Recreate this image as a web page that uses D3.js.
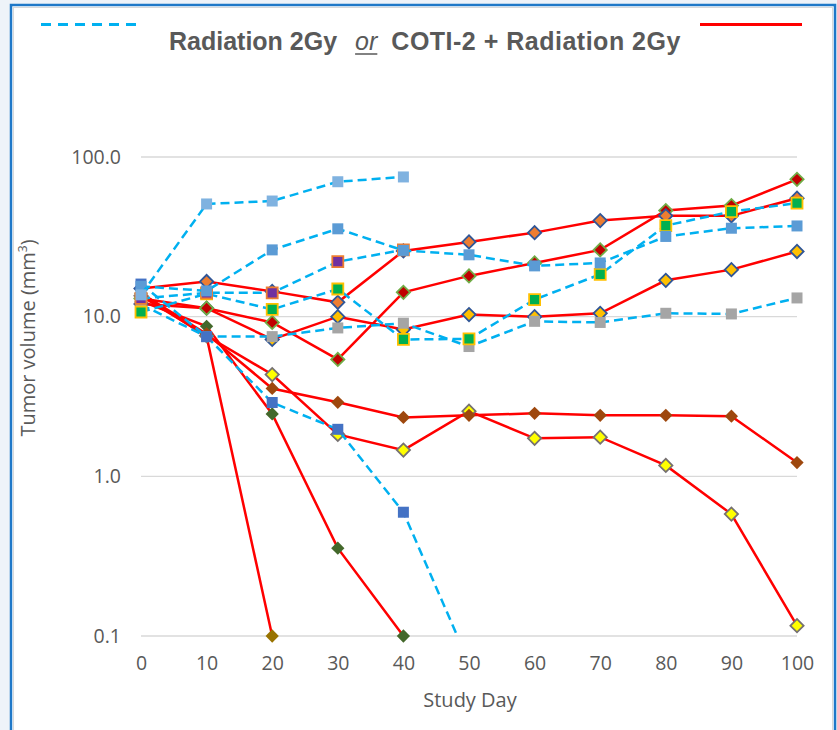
<!DOCTYPE html>
<html>
<head>
<meta charset="utf-8">
<script src="https://cdn.jsdelivr.net/npm/d3@7"></script>
<style>
  html, body { margin:0; padding:0; background:#eef3f9; }
  svg { display:block; }
</style>
</head>
<body>
<div id="chart"></div>
<script>
// study days (x categories) and log ticks
const days = [0,10,20,30,40,50,60,70,80,90,100];
const yTicks = [0.1,1,10,100];

// Radiation 2Gy (dashed blue)
const radLightBlue = [13.7, 50.8, 53, 70, 75, null, null, null, null, null, null];
const radMidBlue   = [15.5, 14.5, 26.2, 35.5, 26, 24.4, 20.8, 21.7, 31.8, 35.8, 37.0];
const radPurple    = [13, 14.1, 14.1, 22.1, 26.2, null, null, null, null, null, null];
const radGreen     = [10.7, 13.9, 11.1, 14.9, 7.2, 7.25, 12.8, 18.4, 37.2, 45.5, 51.4];
const radGray      = [11.9, 7.5, 7.5, 8.5, 9.1, 6.5, 9.35, 9.2, 10.5, 10.4, 13.1];
const radBlue      = [16.0, 7.5, 2.9, 1.97, 0.596, 0.068, null, null, null, null, null];

// COTI-2 + Radiation 2Gy (solid red)
const coOrange  = [15, 16.6, 14.4, 12.3, 25.8, 29.4, 33.6, 40.0, 42.8, 42.8, 55.2];
const coDarkRed = [13, 11.3, 9.2, 5.4, 14.2, 18.0, 21.7, 26.2, 46.2, 49.6, 72.5];
const coGold    = [12, 11.3, 7.2, 10.0, 8.3, 10.3, 10.0, 10.5, 16.9, 19.7, 25.6];
const coBrown   = [14, 7.8, 3.55, 2.91, 2.34, 2.41, 2.48, 2.41, 2.41, 2.38, 1.22];
const coYellow  = [13.5, 7.6, 4.34, 1.83, 1.46, 2.56, 1.73, 1.76, 1.17, 0.58, 0.116];
const coDkGreen = [12.5, 8.7, 2.46, 0.355, 0.10, null, null, null, null, null, null];
const coOlive   = [14, 7.5, 0.10, null, null, null, null, null, null, null, null];

// drawing order: red group first, blue group on top
const series = [
  {v:coOlive,      dash:false, shape:"di", fill:"#997300", stroke:"none"},
  {v:coDkGreen,    dash:false, shape:"di", fill:"#43682b", stroke:"none"},
  {v:coYellow,     dash:false, shape:"di", fill:"#ffff00", stroke:"#767171"},
  {v:coBrown,      dash:false, shape:"di", fill:"#9e480e", stroke:"none"},
  {v:coGold,       dash:false, shape:"di", fill:"#ffc000", stroke:"#2f5597"},
  {v:coDarkRed,    dash:false, shape:"di", fill:"#c00000", stroke:"#70ad47"},
  {v:coOrange,     dash:false, shape:"di", fill:"#ed7d31", stroke:"#2f5597"},
  {v:radGray,      dash:true,  shape:"sq", fill:"#a5a5a5", stroke:"none"},
  {v:radBlue,      dash:true,  shape:"sq", fill:"#4472c4", stroke:"none"},
  {v:radGreen,     dash:true,  shape:"sq", fill:"#00b050", stroke:"#ffc000"},
  {v:radPurple,    dash:true,  shape:"sq", fill:"#7030a0", stroke:"#ed7d31"},
  {v:radMidBlue,   dash:true,  shape:"sq", fill:"#5b9bd5", stroke:"none"},
  {v:radLightBlue, dash:true,  shape:"sq", fill:"#7fb2e0", stroke:"none"}
];

const W = 837, H = 730;
const svg = d3.select("#chart").append("svg").attr("width", W).attr("height", H);

// frame
svg.append("rect").attr("x",11).attr("y",5).attr("width",824).attr("height",740)
  .attr("fill","#fff").attr("stroke","#1f78c8").attr("stroke-width",2.5);
svg.append("rect").attr("x",13.5).attr("y",7.5).attr("width",819).attr("height",735)
  .attr("fill","none").attr("stroke","#d9d9d9").attr("stroke-width",1);

const x = d3.scaleLinear().domain([0,100]).range([141,797]);
const y = d3.scaleLog().domain([0.1,100]).range([636,157]);

const txt = "#595959";
const aFont = "'Open Sans', sans-serif";

// gridlines
svg.append("g").selectAll("line").data(yTicks).join("line")
  .attr("x1",x(0)).attr("x2",x(100)).attr("y1",d=>y(d)).attr("y2",d=>y(d))
  .attr("stroke","#d9d9d9").attr("stroke-width",1.3);

// axes
const yAxis = svg.append("g").attr("transform",`translate(${x(0)-12},0)`)
  .call(d3.axisLeft(y).tickValues(yTicks).tickFormat(d3.format(".1f")).tickSize(0).tickPadding(8));
const xAxis = svg.append("g").attr("transform",`translate(0,${y(0.1)+8})`)
  .call(d3.axisBottom(x).tickValues(days).tickSize(0).tickPadding(12));
[yAxis, xAxis].forEach(a=>{
  a.select(".domain").remove();
  a.selectAll("text").attr("fill",txt).style("font-family",aFont).style("font-size","19.5px");
});

svg.append("text").attr("x",470).attr("y",707).attr("text-anchor","middle")
  .attr("fill",txt).style("font-family",aFont).style("font-size","20px").text("Study Day");

const yl = svg.append("text").attr("transform","translate(35,338) rotate(-90)").attr("text-anchor","middle")
  .attr("fill",txt).style("font-family",aFont).style("font-size","20px");
yl.append("tspan").text("Tumor volume (mm");
yl.append("tspan").attr("dy",-8).style("font-size","12px").text("3");
yl.append("tspan").attr("dy",8).text(")");

// clip for lines
svg.append("clipPath").attr("id","plot").append("rect")
  .attr("x",x(0)-10).attr("y",y(100)-40).attr("width",x(100)-x(0)+20).attr("height",y(0.1)-y(100)+40);

const line = d3.line().defined(d=>d.v!=null).x(d=>x(d.day)).y(d=>y(d.v));
const sqSym = d3.symbol(d3.symbolSquare, 121);
const diSym = d3.symbol(d3.symbolSquare, 88);

const plot = svg.append("g");
series.forEach(s=>{
  const pts = days.map((day,i)=>({day, v:s.v[i]}));
  plot.append("path").datum(pts).attr("d",line).attr("fill","none").attr("clip-path","url(#plot)")
    .attr("stroke", s.dash ? "#00b0f0" : "#ff0000").attr("stroke-width",2.5)
    .attr("stroke-dasharray", s.dash ? "9,5" : null);
  const shown = pts.filter(d=>d.v!=null && d.v>=0.1);
  plot.append("g").selectAll("path").data(shown).join("path")
    .attr("d", s.shape==="sq" ? sqSym : diSym)
    .attr("transform", d=>`translate(${x(d.day)},${y(d.v)})` + (s.shape==="di" ? " rotate(45)" : ""))
    .attr("fill", s.fill).attr("stroke", s.stroke).attr("stroke-width", s.stroke==="none" ? 0 : 1.8);
});

// legend lines
svg.append("line").attr("x1",41).attr("x2",140).attr("y1",24.5).attr("y2",24.5)
  .attr("stroke","#00b0f0").attr("stroke-width",3).attr("stroke-dasharray","10,7");
svg.append("line").attr("x1",700).attr("x2",802).attr("y1",24.5).attr("y2",24.5)
  .attr("stroke","#ff0000").attr("stroke-width",3);

// title
const tFont = "'Liberation Sans Narrow', 'Arial Narrow', sans-serif";
const tg = svg.append("g");
let cx = 169;
const parts = [
  {t:"Radiation 2Gy", w:"bold", s:"normal", gap:18},
  {t:"or", w:"normal", s:"italic", gap:14, ul:true},
  {t:"COTI-2 + Radiation 2Gy", w:"bold", s:"normal", gap:0}
];
parts.forEach(p=>{
  const el = tg.append("text").attr("x",cx).attr("y",50).attr("fill",txt)
    .style("font-family",tFont).style("font-size","25px").style("font-weight",p.w).style("font-style",p.s).text(p.t);
  if (p.t.startsWith("COTI")) el.style("letter-spacing","0.5px");
  const w = el.node().getComputedTextLength();
  if (p.ul) tg.append("line").attr("x1",cx).attr("x2",cx+w).attr("y1",54).attr("y2",54).attr("stroke",txt).attr("stroke-width",1.5);
  cx += w + p.gap;
});
</script>
</body>
</html>
